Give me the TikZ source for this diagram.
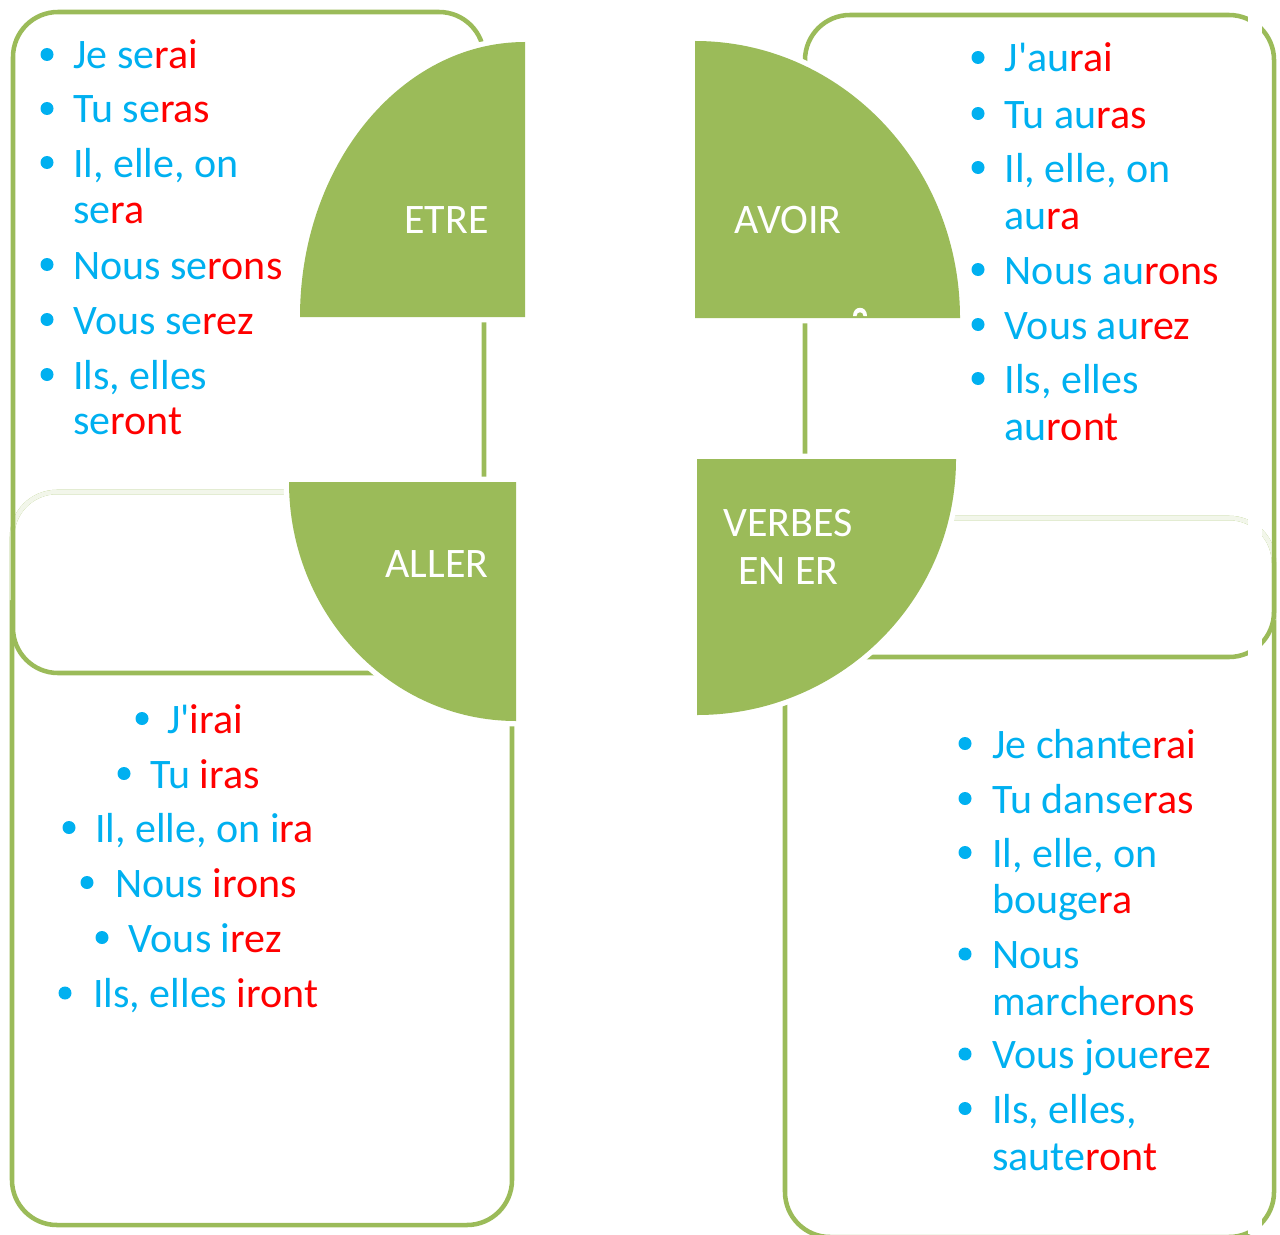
\documentclass[tikz,border=0pt]{standalone}
\usepackage{fontspec}
\setmainfont{Carlito}[Ligatures=TeXOff]
\definecolor{grn}{HTML}{9BBB59}
\definecolor{cy}{HTML}{00B0F0}
\definecolor{rd}{HTML}{FF0000}
\definecolor{faint}{HTML}{F2F6EA}
\newcommand\vfont{\fontsize{31.5}{37.8}\selectfont}
\newcommand\R[1]{\textcolor{rd}{#1}}
\newcommand\bitem[5]{% name, bullet x, text x, baseline, content
  \node[bul] (#1b) at (#2,#4-14.5) {};
  \node[itm] (#1) at (#3,#4) {#5};}
\begin{document}
\begin{tikzpicture}[x=0.75pt,y=-0.75pt,
  boxline/.style={draw=grn, line width=3.4pt, rounded corners=33.75pt},
  faintline/.style={draw=faint, line width=3.4pt, rounded corners=33.75pt},
  quarter/.style={preaction={draw=white, line width=8pt, line join=round}, fill=grn},
  qlabel/.style={anchor=base, inner sep=0pt, text=white, font=\vfont, align=center},
  bul/.style={circle, fill=cy, inner sep=0pt, minimum size=9.75pt},
  itm/.style={anchor=base west, inner sep=0pt, font=\vfont, text=cy}]
\useasboundingbox (0,0) rectangle (1280,1234);
\clip (0,0) rectangle (1280,1234);
% ---- boxes ----
% VERBES EN ER box
\draw[boxline] (785,518) rectangle (1274,1237);
\draw[faintline] (785,620) |- (1030,518) -| (1274,620);
% AVOIR box
\draw[boxline] (805,15) rectangle (1274,657);
% ALLER box
\draw[boxline] (12,492) rectangle (512,1225);
\draw[faintline] (12,600) |- (262,492) -| (512,600);
% ETRE box
\draw[boxline] (13,12) rectangle (484,673);
% white strip on the right
\fill[white] (1248,0) rectangle (1262,1234);
% ---- quarter shapes ----
\path[quarter] (525,317) -- (300,317) arc[start angle=180, end angle=270, x radius=225, y radius=275] -- cycle;
\path[quarter] (695,318) -- (695,41) arc[start angle=270, end angle=360, x radius=265, y radius=277] -- cycle;
\path[quarter] (516,482) -- (289,482) arc[start angle=180, end angle=90, x radius=227, y radius=239] -- cycle;
\path[quarter] (697,459) -- (956,459) arc[start angle=0, end angle=90, x radius=259, y radius=256] -- cycle;
% small white mark in AVOIR
\fill[white] (853,316) .. controls (853,305) and (867,305) .. (867,316) -- (863.5,316) .. controls (863.5,311) and (856.5,311) .. (856.5,316) -- cycle;
% ---- quarter labels ----
\node[qlabel] (etre) at (446.5,233) {ETRE};
\node[qlabel] (avoir) at (788,233) {AVOIR};
\node[qlabel] (aller) at (437,577) {ALLER};
\node[qlabel] (verbes) at (788,536) {VERBES};
\node[qlabel] (ener) at (788.5,584) {EN ER};
% ---- ETRE list ----
\bitem{e1}{47}{73}{69}{Je se\R{rai}}
\bitem{e2}{47}{73}{123}{Tu se\R{ras}}
\bitem{e3}{47}{73}{177}{Il, elle, on}
\node[itm] (e3c) at (73,223) {se\R{ra}};
\bitem{e4}{47}{73}{279}{Nous se\R{rons}}
\bitem{e5}{47}{73}{334}{Vous se\R{rez}}
\bitem{e6}{47}{73}{389}{Ils, elles}
\node[itm] (e6c) at (73,434) {se\R{ront}};
% ---- AVOIR list ----
\bitem{v1}{978}{1004.5}{72}{J'au\R{rai}}
\bitem{v2}{978}{1004.5}{128}{Tu au\R{ras}}
\bitem{v3}{978}{1004.5}{182}{Il, elle, on}
\node[itm] (v3c) at (1004.5,229) {au\R{ra}};
\bitem{v4}{978}{1004.5}{284}{Nous au\R{rons}}
\bitem{v5}{978}{1004.5}{339}{Vous au\R{rez}}
\bitem{v6}{978}{1004.5}{393}{Ils, elles}
\node[itm] (v6c) at (1004.5,440) {au\R{ront}};
% ---- ALLER list ----
\bitem{a1}{142}{167}{733}{J'\R{irai}}
\bitem{a2}{124}{150}{788}{Tu \R{iras}}
\bitem{a3}{69}{95}{842}{Il, elle, on i\R{ra}}
\bitem{a4}{87}{115}{897}{Nous \R{irons}}
\bitem{a5}{102}{128.5}{952}{Vous i\R{rez}}
\bitem{a6}{65}{93}{1007.5}{Ils, elles \R{iront}}
% ---- VERBES EN ER list ----
\bitem{r1}{965}{992}{758}{Je chante\R{rai}}
\bitem{r2}{965}{992}{813}{Tu danse\R{ras}}
\bitem{r3}{965}{992}{867}{Il, elle, on}
\node[itm] (r3c) at (992,913.5) {bouge\R{ra}};
\bitem{r4}{965}{992}{968.5}{Nous}
\node[itm] (r4c) at (992,1015) {marche\R{rons}};
\bitem{r5}{965}{992}{1068.5}{Vous joue\R{rez}}
\bitem{r6}{965}{992}{1123}{Ils, elles,}
\node[itm] (r6c) at (992,1170) {saute\R{ront}};
\end{tikzpicture}
\end{document}
